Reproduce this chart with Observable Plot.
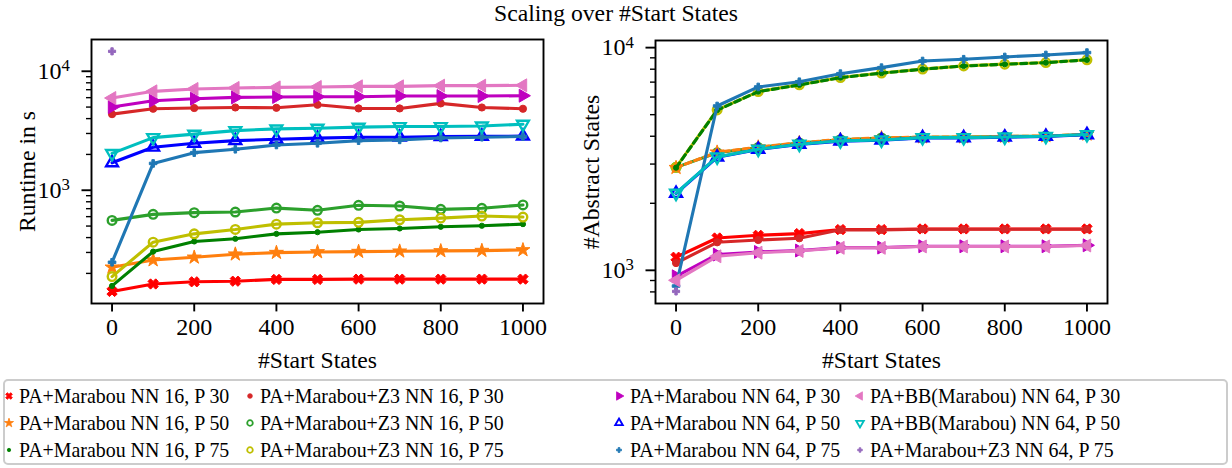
<!DOCTYPE html>
<html><head><meta charset="utf-8">
<script src="https://cdn.jsdelivr.net/npm/d3@7"></script>
<script src="https://cdn.jsdelivr.net/npm/@observablehq/plot@0.6"></script>
<style>
body{margin:0;background:#fff;font-family:"Liberation Serif","Times New Roman",serif;}
#root{position:relative;width:1232px;height:468px;overflow:hidden;background:#fff;}
#title{position:absolute;left:0;top:-1px;width:1232px;text-align:center;font-size:23.7px;line-height:28px;color:#000;}
.chart{position:absolute;top:0;}
.chart svg{overflow:visible;}
.chart svg text{font-family:"Liberation Serif","Times New Roman",serif !important;}
#legend{position:absolute;left:3px;top:379px;width:1225px;height:86px;border:2px solid #cccccc;border-radius:5px;box-sizing:border-box;background:#fff;}
.li{position:absolute;font-size:19.9px;line-height:20px;white-space:nowrap;color:#000;}
.lm{position:absolute;}
</style>
</head><body>
<div id="root">
  <div id="title">Scaling over #Start States</div>
  <div class="chart" id="c1" style="left:0px"></div>
  <div class="chart" id="c2" style="left:560px"></div>
  <div id="legend"></div>
</div>
<script>
// ---------- data ----------
const startStates = [0,100,200,300,400,500,600,700,800,900,1000];
const seriesNames = [
  "PA+Marabou NN 16, P 30","PA+Marabou NN 16, P 50","PA+Marabou NN 16, P 75",
  "PA+Marabou+Z3 NN 16, P 30","PA+Marabou+Z3 NN 16, P 50","PA+Marabou+Z3 NN 16, P 75",
  "PA+Marabou NN 64, P 30","PA+Marabou NN 64, P 50","PA+Marabou NN 64, P 75",
  "PA+BB(Marabou) NN 64, P 30","PA+BB(Marabou) NN 64, P 50","PA+Marabou+Z3 NN 64, P 75"
];
const xTicks = [0,200,400,600,800,1000];
const yMajorTicks = [1000,10000];
const yMinorLeft = [200,300,400,500,600,700,800,900,2000,3000,4000,5000,6000,7000,8000,9000];
const yMinorRight = [800,900,2000,3000,4000,5000,6000,7000,8000,9000];
const xLabel = "#Start States";
const yLabelLeft = "Runtime in s";
const yLabelRight = "#Abstract States";

// Runtime in s (left)
const rtM16P30 = [141,163,170,172,178,178,179,179,179,179,179];
const rtM16P50 = [225,259,273,290,299,303,305,307,309,311,315];
const rtM16P75 = [157,305,371,391,430,444,468,477,493,503,519];
const rtZ16P30 = [4360,4840,4910,4960,4930,5230,4870,4870,5370,4960,4840];
const rtZ16P50 = [558,627,648,656,708,678,747,737,691,705,752];
const rtZ16P75 = [188,366,430,468,519,533,537,565,583,607,595];
const rtM64P30 = [5000,5650,5880,6030,6080,6110,6110,6190,6190,6190,6230];
const rtM64P50 = [1700,2300,2480,2610,2680,2740,2790,2790,2820,2840,2850];
const rtM64P75 = [248,1680,2070,2210,2400,2480,2610,2650,2750,2790,2830];
const rtBB64P30 = [5960,6780,7100,7240,7320,7380,7470,7470,7570,7570,7620];
const rtBB64P50 = [2040,2770,2960,3170,3280,3320,3390,3430,3430,3470,3590];
const rtZ64P75 = [14700,null,null,null,null,null,null,null,null,null,null];

// #Abstract States (right)
const asM16P30 = [1145,1397,1436,1462,1524,1524,1534,1534,1534,1534,1534];
const asM16P50 = [2890,3390,3575,3740,3870,3935,3965,3965,3990,4010,4080];
const asM16P75 = [2890,5240,6340,6800,7330,7680,8000,8270,8420,8560,8810];
const asZ16P30 = [1078,1336,1368,1393,1520,1520,1530,1530,1530,1530,1530];
const asZ16P50 = [2900,3370,3560,3730,3860,3930,3960,3965,3990,4010,4070];
const asZ16P75 = [2900,5250,6350,6810,7340,7690,8010,8280,8430,8570,8820];
const asM64P30 = [940,1177,1209,1227,1265,1265,1282,1282,1282,1282,1295];
const asM64P50 = [2213,3220,3490,3675,3805,3840,3935,3935,3960,3990,4060];
const asM64P75 = [850,5470,6660,7030,7640,8130,8710,8870,9080,9270,9500];
const asBB64P30 = [902,1156,1200,1222,1262,1262,1280,1280,1280,1280,1293];
const asBB64P50 = [2220,3230,3500,3685,3815,3850,3945,3945,3970,4000,4070];
const asZ64P75 = [804,null,null,null,null,null,null,null,null,null,null];

const runtimeData = [rtM16P30,rtM16P50,rtM16P75,rtZ16P30,rtZ16P50,rtZ16P75,rtM64P30,rtM64P50,rtM64P75,rtBB64P30,rtBB64P50,rtZ64P75];
const abstractData = [asM16P30,asM16P50,asM16P75,asZ16P30,asZ16P50,asZ16P75,asM64P30,asM64P50,asM64P75,asBB64P30,asBB64P50,asZ64P75];

// ---------- styles ----------
function rotSym(base, angle){
  const a = angle*Math.PI/180, c = Math.cos(a), s = Math.sin(a);
  return {draw(ctx, size){
    const p = {
      moveTo(x,y){ctx.moveTo(x*c-y*s, x*s+y*c);},
      lineTo(x,y){ctx.lineTo(x*c-y*s, x*s+y*c);},
      closePath(){ctx.closePath();}
    };
    base.draw(p, size);
  }};
}
const symX = rotSym(d3.symbolCross, 45);
const symTriUp = d3.symbolTriangle;
const symTriRight = rotSym(d3.symbolTriangle, 90);
const symTriLeft = rotSym(d3.symbolTriangle, -90);
const symTriDown = rotSym(d3.symbolTriangle, 180);
const styles = [
  {color:"#ff0000", sym:symX, hollow:false, r:4.6},
  {color:"#ff7f0e", sym:d3.symbolStar, hollow:false, r:4.4},
  {color:"#008000", sym:d3.symbolCircle, hollow:false, r:2.6},
  {color:"#d62728", sym:d3.symbolCircle, hollow:false, r:3.6},
  {color:"#2ca02c", sym:d3.symbolCircle, hollow:true, r:4.3},
  {color:"#bfbf00", sym:d3.symbolCircle, hollow:true, r:4.3},
  {color:"#bf00bf", sym:symTriRight, hollow:false, r:4.8},
  {color:"#0000ff", sym:symTriUp, hollow:true, r:4.4},
  {color:"#1f77b4", sym:d3.symbolCross, hollow:false, r:3.2},
  {color:"#e377c2", sym:symTriLeft, hollow:false, r:4.8},
  {color:"#00bfbf", sym:symTriDown, hollow:true, r:4.4},
  {color:"#9467bd", sym:d3.symbolCross, hollow:false, r:3}
];

function postProcess(svg){
  svg.querySelectorAll("text").forEach(t => {
    const m = t.textContent.match(/^10\^(\d+)$/);
    if (m) {
      t.textContent = "10";
      const ts = document.createElementNS("http://www.w3.org/2000/svg","tspan");
      ts.setAttribute("dy","-0.45em");
      ts.setAttribute("font-size","0.7em");
      ts.textContent = m[1];
      t.appendChild(ts);
    }
  });
  svg.querySelectorAll('g[aria-label$="tick label"]').forEach(g => {
    g.style.fontSize = "24px";
    g.setAttribute("font-size", "24");
    g.style.fontVariant = "normal";
  });
}

function makeChart({data, yDomain, yLabel, minor, dashed, order, width, marginLeft, marginRight, marginTop}){
  const marks = [];
  order.forEach(i => {
    const st = styles[i];
    const pts = startStates.map((x,j) => ({x, y: data[i][j]})).filter(d => d.y != null);
    if (pts.length > 1) marks.push(Plot.line(pts, {x:"x", y:"y", stroke: st.color, strokeWidth: 3.1,
      strokeDasharray: dashed.includes(i) ? "6,4" : null}));
    marks.push(Plot.dot(pts, {x:"x", y:"y", symbol: st.sym, r: st.r,
      fill: st.hollow ? "none" : st.color, stroke: st.color, strokeWidth: st.hollow ? 2.4 : 1}));
  });
  marks.push(Plot.axisX({ticks: xTicks, tickSize: 8.4, tickPadding: 6, strokeWidth: 1.9, tickFormat: d => String(d), label: null, fontSize: 24}));
  marks.push(Plot.axisY({ticks: minor, tickSize: 5, tickPadding: 0, strokeWidth: 1.4, tickFormat: () => "", label: null}));
  marks.push(Plot.axisY({ticks: yMajorTicks, tickSize: 9.5, tickPadding: 12, strokeWidth: 1.9, tickFormat: d => "10^" + Math.round(Math.log10(d)), label: null, fontSize: 24}));
  marks.push(Plot.text([xLabel], {text: d => d, frameAnchor: "bottom", dy: 57, textAnchor: "middle", lineAnchor: "middle", fontSize: 23.7}));
  marks.push(Plot.text([yLabel], {text: d => d, frameAnchor: "left", dx: -64, rotate: -90, textAnchor: "middle", lineAnchor: "middle", fontSize: 23.7}));
  marks.push(Plot.frame({stroke: "#000", strokeWidth: 1.9}));
  const svg = Plot.plot({
    width, height: 380, marginLeft, marginRight, marginTop, marginBottom: 77,
    style: {fontFamily: "'Liberation Serif','Times New Roman',serif", fontSize: "24px", color: "#000", background: "transparent", overflow: "visible"},
    x: {domain: [-50,1050], label: null},
    y: {type: "log", domain: yDomain, label: null},
    marks
  });
  postProcess(svg);
  return svg;
}

const baseOrder = [0,1,2,3,4,5,6,7,8,9,10,11];
document.getElementById("c1").appendChild(makeChart({
  data: runtimeData, yDomain: [111.7,18490], yLabel: yLabelLeft, minor: yMinorLeft,
  dashed: [], order: baseOrder, width: 560, marginLeft: 91, marginRight: 17, marginTop: 39
}));
document.getElementById("c2").appendChild(makeChart({
  data: abstractData, yDomain: [709.6,10765], yLabel: yLabelRight, minor: yMinorRight,
  dashed: [1,2], order: [0,3,4,5,1,2,6,7,8,9,10,11], width: 640, marginLeft: 95, marginRight: 93, marginTop: 40
}));

// ---------- legend ----------
const legend = document.getElementById("legend");
const colMarkX = [9,250,619,860];
const colTextX = [19,260,630,870];
const rowY = [396,423,450];
seriesNames.forEach((name,i) => {
  const col = Math.floor(i/3), row = i%3, st = styles[i];
  const ox = 3 + 2, oy = 379 + 2; // legend border offset
  const m = document.createElementNS("http://www.w3.org/2000/svg","svg");
  m.setAttribute("width",14); m.setAttribute("height",14);
  m.setAttribute("class","lm");
  m.style.left = (colMarkX[col]-7-ox)+"px"; m.style.top = (rowY[row]-7-oy)+"px";
  const p = document.createElementNS("http://www.w3.org/2000/svg","path");
  const rr = st.r*0.65;
  p.setAttribute("d", d3.symbol(st.sym, Math.PI*rr*rr)());
  p.setAttribute("transform","translate(7,7)");
  p.setAttribute("fill", st.hollow ? "none" : st.color);
  p.setAttribute("stroke", st.color);
  p.setAttribute("stroke-width", st.hollow ? 1.8 : 0.8);
  m.appendChild(p);
  legend.appendChild(m);
  const t = document.createElement("div");
  t.className = "li";
  t.textContent = name;
  t.style.left = (colTextX[col]-ox)+"px"; t.style.top = (rowY[row]-10-oy)+"px";
  legend.appendChild(t);
});
</script>
</body></html>
